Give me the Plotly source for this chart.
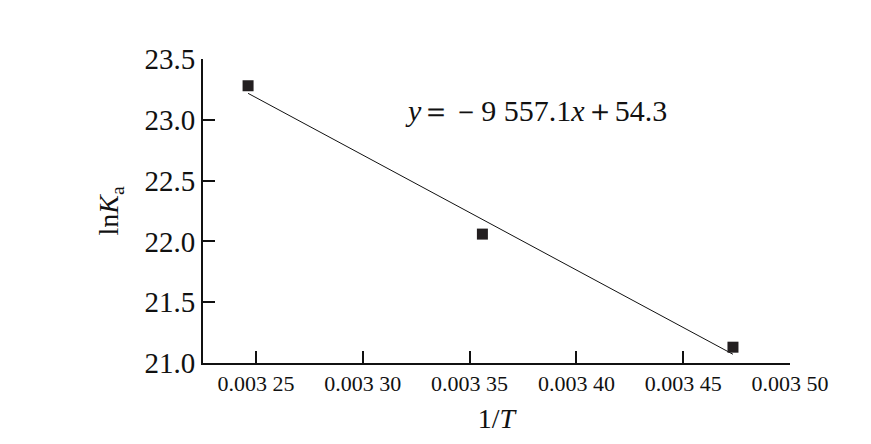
import numpy as np
import plotly.graph_objects as go

# data
inv_T = [0.0032463, 0.0033560, 0.0034733]
ln_Ka = [23.28, 22.06, 21.13]

x_tickvals = [0.00325, 0.00330, 0.00335, 0.00340, 0.00345, 0.00350]
x_ticktext = ["0.003 25", "0.003 30", "0.003 35", "0.003 40", "0.003 45", "0.003 50"]
y_tickvals = [21.0, 21.5, 22.0, 22.5, 23.0, 23.5]
y_ticktext = ["21.0", "21.5", "22.0", "22.5", "23.0", "23.5"]

equation = "<i>y</i>\uff1d\uff0d9 557.1<i>x</i>\uff0b54.3"

# linear fit through the points
slope, intercept = np.polyfit(inv_T, ln_Ka, 1)
fit_x = [inv_T[0], inv_T[-1]]
fit_y = [slope * v + intercept for v in fit_x]

FONT = "Liberation Serif, Times New Roman, serif"

fig = go.Figure()
fig.add_trace(go.Scatter(x=fit_x, y=fit_y, mode="lines",
                         line=dict(color="#111111", width=1), showlegend=False))
fig.add_trace(go.Scatter(x=inv_T, y=ln_Ka, mode="markers",
                         marker=dict(symbol="square", size=11, color="#231f20"),
                         showlegend=False))

fig.add_annotation(x=0.0033188, y=23.08, xref="x", yref="y", text=equation,
                   showarrow=False, xanchor="left", yanchor="middle",
                   font=dict(family=FONT, size=30, color="#111111"))

# page body has an 8px default margin, so margins are reduced by 8
fig.update_layout(
    width=871, height=444,
    margin=dict(l=195, r=89, t=51, b=89),
    paper_bgcolor="white", plot_bgcolor="white",
    font=dict(family=FONT, color="#111111"),
)
fig.update_xaxes(
    range=[0.0032252, 0.00350], showgrid=False, zeroline=False,
    showline=True, linecolor="#111111", linewidth=2,
    ticks="inside", ticklen=12, tickwidth=2, tickcolor="#111111",
    tickvals=x_tickvals, ticktext=x_ticktext,
    tickfont=dict(family=FONT, size=22),
    title=dict(text="1/<i>T</i>", font=dict(family=FONT, size=28), standoff=13),
)
fig.update_yaxes(
    range=[21.0, 23.5], showgrid=False, zeroline=False,
    showline=True, linecolor="#111111", linewidth=2,
    ticks="inside", ticklen=12, tickwidth=2, tickcolor="#111111",
    tickvals=y_tickvals, ticktext=y_ticktext,
    tickfont=dict(family=FONT, size=29),
    title=dict(text="ln<i>K</i><sub>a</sub>", font=dict(family=FONT, size=28), standoff=18),
)

fig.write_html("out.html")
